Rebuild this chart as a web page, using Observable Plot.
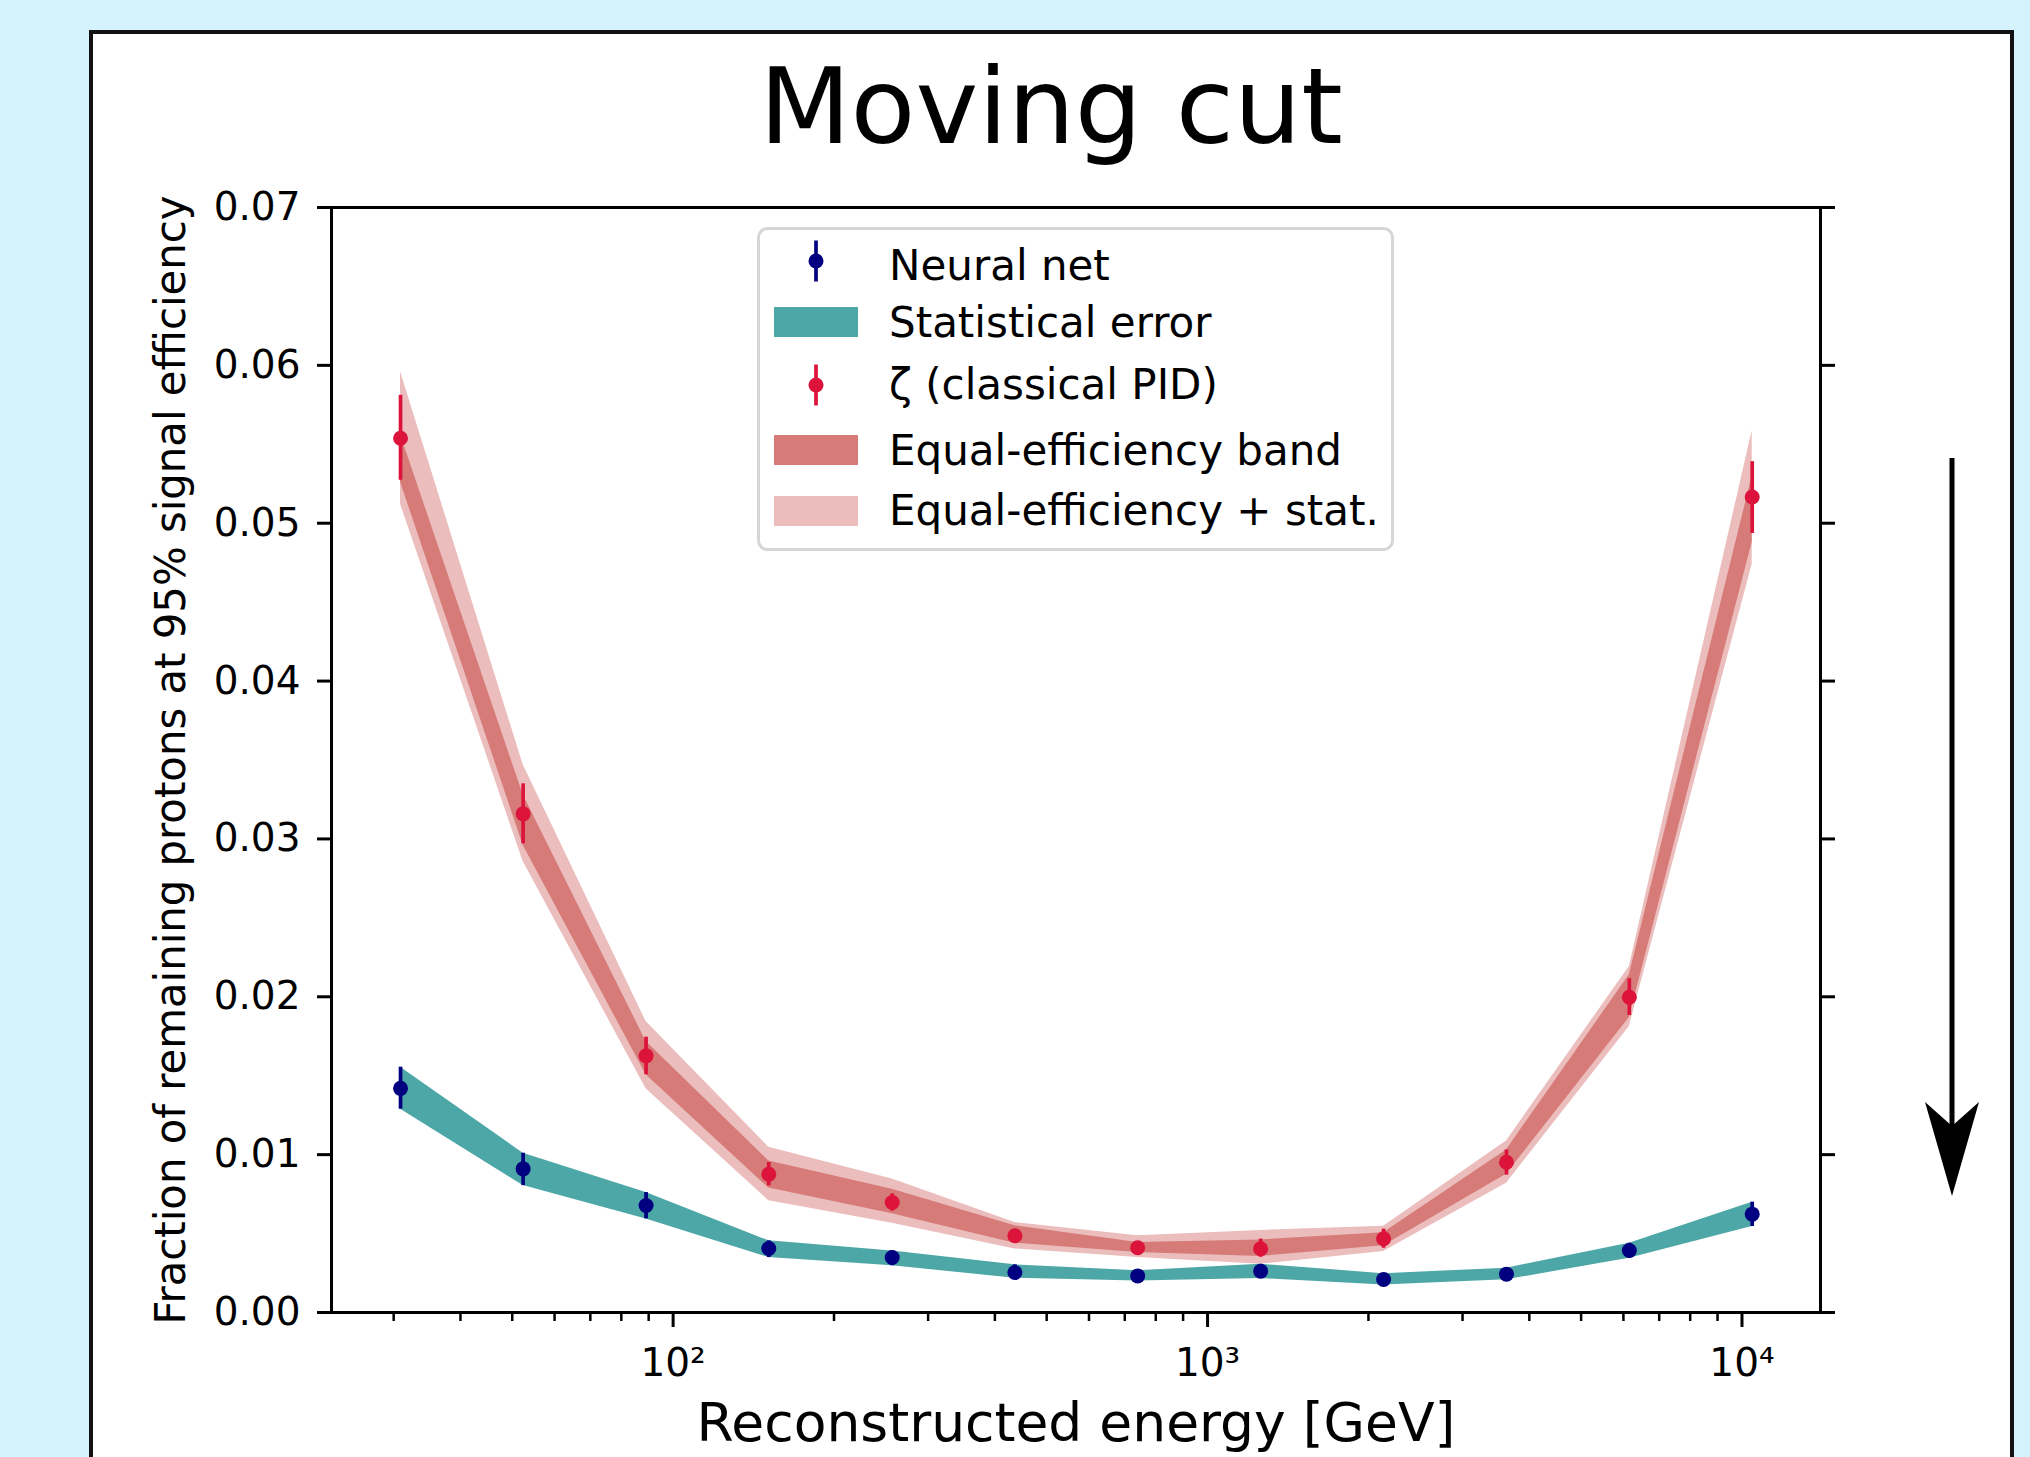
<!DOCTYPE html>
<html>
<head>
<meta charset="utf-8">
<script src="https://cdn.jsdelivr.net/npm/d3@7"></script>
<script src="https://cdn.jsdelivr.net/npm/@observablehq/plot@0.6"></script>
<style>
html, body { margin:0; padding:0; width:2030px; height:1457px; overflow:hidden; background:#d4f3fc; font-family:"DejaVu Sans", sans-serif; }
#panel { position:absolute; left:89px; top:30px; width:1925px; height:1500px; box-sizing:border-box; border:4px solid #111; background:#fff; }
#title { position:absolute; left:91px; width:1920px; top:54px; text-align:center; font-size:106px; line-height:106px; color:#000; font-family:"DejaVu Sans", sans-serif; }
#chart { position:absolute; left:0; top:0; }
#overlay { position:absolute; left:0; top:0; }
</style>
</head>
<body>
<div id="panel"></div>
<div id="title"></div>
<div id="chart"></div>
<svg id="overlay" width="2030" height="1457"></svg>
<script>
// ---------- data ----------
const titleText = "Moving cut";
const xLabel = "Reconstructed energy [GeV]";
const yLabel = "Fraction of remaining protons at 95% signal efficiency";

const energy = [30.9, 52.4, 89.0, 151, 257, 436, 740, 1257, 2135, 3625, 6155, 10450];

// Neural net
const nnValue = [0.0142, 0.0091, 0.00678, 0.00405, 0.00348, 0.00253, 0.00232, 0.00262, 0.00209, 0.00243, 0.00393, 0.00623];
const nnLow   = [0.01288, 0.00804, 0.00593, 0.00348, 0.00296, 0.00217, 0.00200, 0.00215, 0.00175, 0.00207, 0.00344, 0.00545];
const nnHigh  = [0.01554, 0.01009, 0.00760, 0.00454, 0.00390, 0.00302, 0.00264, 0.00305, 0.00246, 0.00281, 0.00439, 0.00699];

// zeta (classical PID)
const zetaValue = [0.05538, 0.03159, 0.01626, 0.00876, 0.00697, 0.00486, 0.00410, 0.00404, 0.00467, 0.00952, 0.01997, 0.05166];
const zetaLow   = [0.05272, 0.02969, 0.01506, 0.00802, 0.00642, 0.00456, 0.00380, 0.00350, 0.00407, 0.00870, 0.01881, 0.04935];
const zetaHigh  = [0.05810, 0.03349, 0.01744, 0.00950, 0.00752, 0.00516, 0.00440, 0.00465, 0.00528, 0.01030, 0.02114, 0.05390];

// Equal-efficiency band
const bandLow  = [0.0526, 0.0296, 0.01506, 0.00788, 0.00625, 0.00439, 0.00380, 0.00355, 0.00423, 0.00876, 0.01869, 0.0488];
const bandHigh = [0.0556, 0.0328, 0.01717, 0.00960, 0.00781, 0.00550, 0.00443, 0.00460, 0.00505, 0.01030, 0.02139, 0.0530];

// Equal-efficiency + stat.
const totalLow  = [0.0512, 0.02857, 0.01417, 0.00708, 0.00566, 0.00403, 0.00348, 0.00306, 0.00386, 0.00819, 0.01812, 0.0474];
const totalHigh = [0.0596, 0.0347, 0.01843, 0.01047, 0.00845, 0.00570, 0.00486, 0.00520, 0.00547, 0.01087, 0.02192, 0.05586];

const yTicks = [0, 0.01, 0.02, 0.03, 0.04, 0.05, 0.06, 0.07];
const xMajorTicks = [100, 1000, 10000];
const xMinorTicks = [30, 40, 50, 60, 70, 80, 90, 200, 300, 400, 500, 600, 700, 800, 900,
                     2000, 3000, 4000, 5000, 6000, 7000, 8000, 9000];
const xTickLabels = {100: "10²", 1000: "10³", 10000: "10⁴"};

const legendLabels = ["Neural net", "Statistical error", "ζ (classical PID)", "Equal-efficiency band", "Equal-efficiency + stat."];

// ---------- colours ----------
const cNN = "#000080", cTeal = "#4ea7a7", cZeta = "#dc143c", cBand = "#d67b78", cTotal = "#ebbdbd";

const rows = energy.map((e, i) => ({
  e, nn: nnValue[i], nnLow: nnLow[i], nnHigh: nnHigh[i],
  zeta: zetaValue[i], zetaLow: zetaLow[i], zetaHigh: zetaHigh[i],
  bandLow: bandLow[i], bandHigh: bandHigh[i], totalLow: totalLow[i], totalHigh: totalHigh[i]
}));

document.getElementById("title").textContent = titleText;

const chart = Plot.plot({
  width: 2030, height: 1457,
  marginLeft: 331, marginRight: 210, marginTop: 207, marginBottom: 145,
  x: {type: "log", domain: [22.95, 14025]},
  y: {domain: [0, 0.07]},
  style: {background: "none", color: "black", fontFamily: "DejaVu Sans", overflow: "visible"},
  marks: [
    Plot.areaY(rows, {x: "e", y1: "totalLow", y2: "totalHigh", fill: cTotal}),
    Plot.areaY(rows, {x: "e", y1: "bandLow", y2: "bandHigh", fill: cBand}),
    Plot.areaY(rows, {x: "e", y1: "nnLow", y2: "nnHigh", fill: cTeal}),
    Plot.ruleX(rows, {x: "e", y1: "nnLow", y2: "nnHigh", stroke: cNN, strokeWidth: 3.7}),
    Plot.dot(rows, {x: "e", y: "nn", r: 7.5, fill: cNN}),
    Plot.ruleX(rows, {x: "e", y1: "zetaLow", y2: "zetaHigh", stroke: cZeta, strokeWidth: 3.7}),
    Plot.dot(rows, {x: "e", y: "zeta", r: 7.5, fill: cZeta}),
    Plot.frame({stroke: "black", strokeWidth: 3}),
    Plot.axisY({anchor: "left", ticks: yTicks, tickSize: 14, tickPadding: 17, tickFormat: d3.format(".2f"), fontSize: 39, strokeWidth: 3, label: null}),
    Plot.axisY({anchor: "right", ticks: yTicks, tickSize: 14, tickFormat: () => "", strokeWidth: 3, label: null}),
    Plot.axisX({anchor: "bottom", ticks: xMajorTicks, tickSize: 15, tickPadding: 21, tickFormat: d => xTickLabels[d], fontSize: 39, strokeWidth: 3, label: null}),
    Plot.axisX({anchor: "bottom", ticks: xMinorTicks, tickSize: 9, tickFormat: () => "", strokeWidth: 2.5, label: null}),
    Plot.text([xLabel], {text: d => d, frameAnchor: "bottom", textAnchor: "middle", lineAnchor: "middle", dy: 111, fontSize: 53.5}),
    Plot.text([yLabel], {text: d => d, frameAnchor: "left", textAnchor: "middle", lineAnchor: "middle", rotate: -90, dx: -160, fontSize: 41.8})
  ]
});
document.getElementById("chart").appendChild(chart);

// ---------- legend ----------
const ov = d3.select("#overlay").style("font-family", "DejaVu Sans");
ov.append("rect").attr("x", 758.5).attr("y", 228.5).attr("width", 634).attr("height", 321)
  .attr("rx", 9).attr("fill", "white").attr("fill-opacity", 0.8)
  .attr("stroke", "#d6d6d6").attr("stroke-width", 3);

const legendKinds = [
  {kind: "err", color: cNN, cy: 261, base: 280},
  {kind: "patch", color: cTeal, cy: 322, base: 337},
  {kind: "err", color: cZeta, cy: 385, base: 399},
  {kind: "patch", color: cBand, cy: 450, base: 465},
  {kind: "patch", color: cTotal, cy: 511, base: 525}
];
legendKinds.forEach((k, i) => {
  if (k.kind === "patch") {
    ov.append("rect").attr("x", 774).attr("y", k.cy - 15).attr("width", 84).attr("height", 30).attr("fill", k.color);
  } else {
    ov.append("line").attr("x1", 816).attr("x2", 816).attr("y1", k.cy - 20.5).attr("y2", k.cy + 20.5)
      .attr("stroke", k.color).attr("stroke-width", 3.7);
    ov.append("circle").attr("cx", 816).attr("cy", k.cy).attr("r", 7.5).attr("fill", k.color);
  }
  ov.append("text").attr("x", 889).attr("y", k.base).attr("font-size", 42).attr("fill", "black").text(legendLabels[i]);
});

// ---------- arrow annotation ----------
ov.append("line").attr("x1", 1952).attr("x2", 1952).attr("y1", 458).attr("y2", 1130)
  .attr("stroke", "black").attr("stroke-width", 5);
ov.append("polygon").attr("points", "1925,1102 1952,1126 1979,1102 1952,1196").attr("fill", "black");
</script>
</body>
</html>
